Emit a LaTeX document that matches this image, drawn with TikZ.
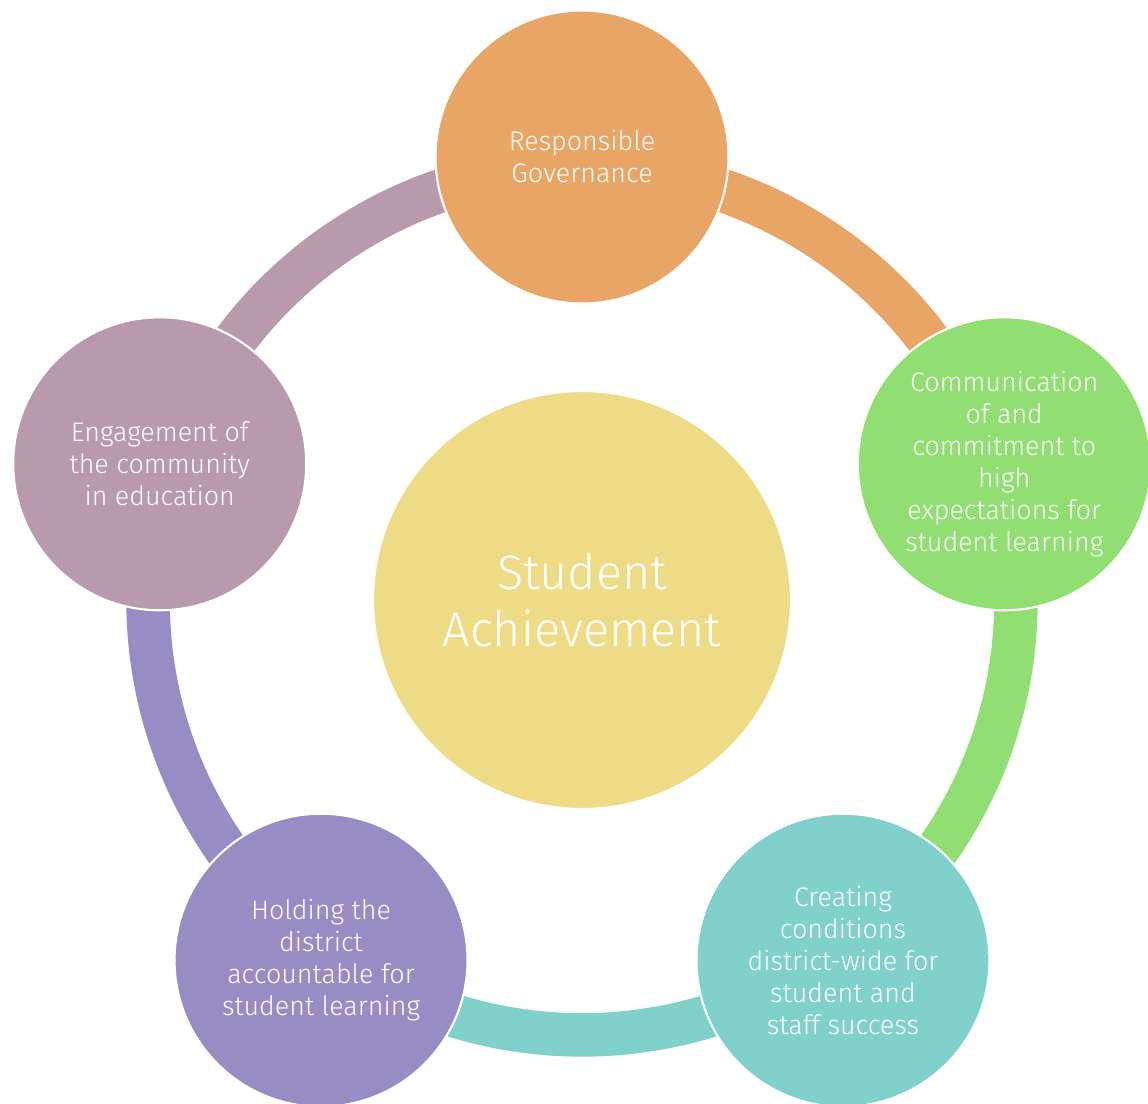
\documentclass[tikz,border=0pt]{standalone}
\usepackage{fontspec}
\setmainfont{Fira Sans}[UprightFont={* Light}]
\usepackage{tikz}

\definecolor{govcol}{HTML}{E8A565}
\definecolor{commcol}{HTML}{91DE72}
\definecolor{condcol}{HTML}{80D0CC}
\definecolor{holdcol}{HTML}{988CC5}
\definecolor{engcol}{HTML}{B999AC}
\definecolor{hubcol}{HTML}{EEDB85}

\tikzset{
  outer/.style={circle, draw=white, line width=1.2pt, minimum size=5.86cm,
    inner sep=0pt, text=white, align=center,
    font=\fontsize{15.3}{18.2}\selectfont},
  hub/.style={circle, draw=white, line width=1.2pt, minimum size=8.36cm,
    inner sep=0pt, text=white, align=center,
    font=\fontsize{27.6}{32.3}\selectfont},
  band/.style={line width=0.87cm}
}

\begin{document}
\begin{tikzpicture}[x=0.02cm, y=0.02cm]
\useasboundingbox (-582,-502) rectangle (566,601);

% ring pieces
\draw[band, govcol]  (90:8.68cm)   arc[start angle=90,   end angle=18,   radius=8.68cm];
\draw[band, commcol] (18:8.68cm)   arc[start angle=18,   end angle=-54,  radius=8.68cm];
\draw[band, condcol] (-54:8.68cm)  arc[start angle=-54,  end angle=-126, radius=8.68cm];
\draw[band, holdcol] (-126:8.68cm) arc[start angle=-126, end angle=-198, radius=8.68cm];
\draw[band, engcol]  (162:8.68cm)  arc[start angle=162,  end angle=90,   radius=8.68cm];

% circles
\draw (0,1) node[hub, fill=hubcol] (sa) {Student\\Achievement};
\draw (90:444) node[outer, fill=govcol] (gov) {Responsible\\Governance};
\draw (18:444) node[outer, fill=commcol] (comm)
  {Communication\\of and\\commitment to\\high\\expectations for\\student learning};
\draw (-54:444) node[outer, fill=condcol] (cond)
  {Creating\\conditions\\district-wide for\\student and\\staff success};
\draw (-126:444) node[outer, fill=holdcol] (hold)
  {Holding the\\district\\accountable for\\student learning};
\draw (162:444) node[outer, fill=engcol] (eng)
  {Engagement of\\the community\\in education};
\end{tikzpicture}
\end{document}
